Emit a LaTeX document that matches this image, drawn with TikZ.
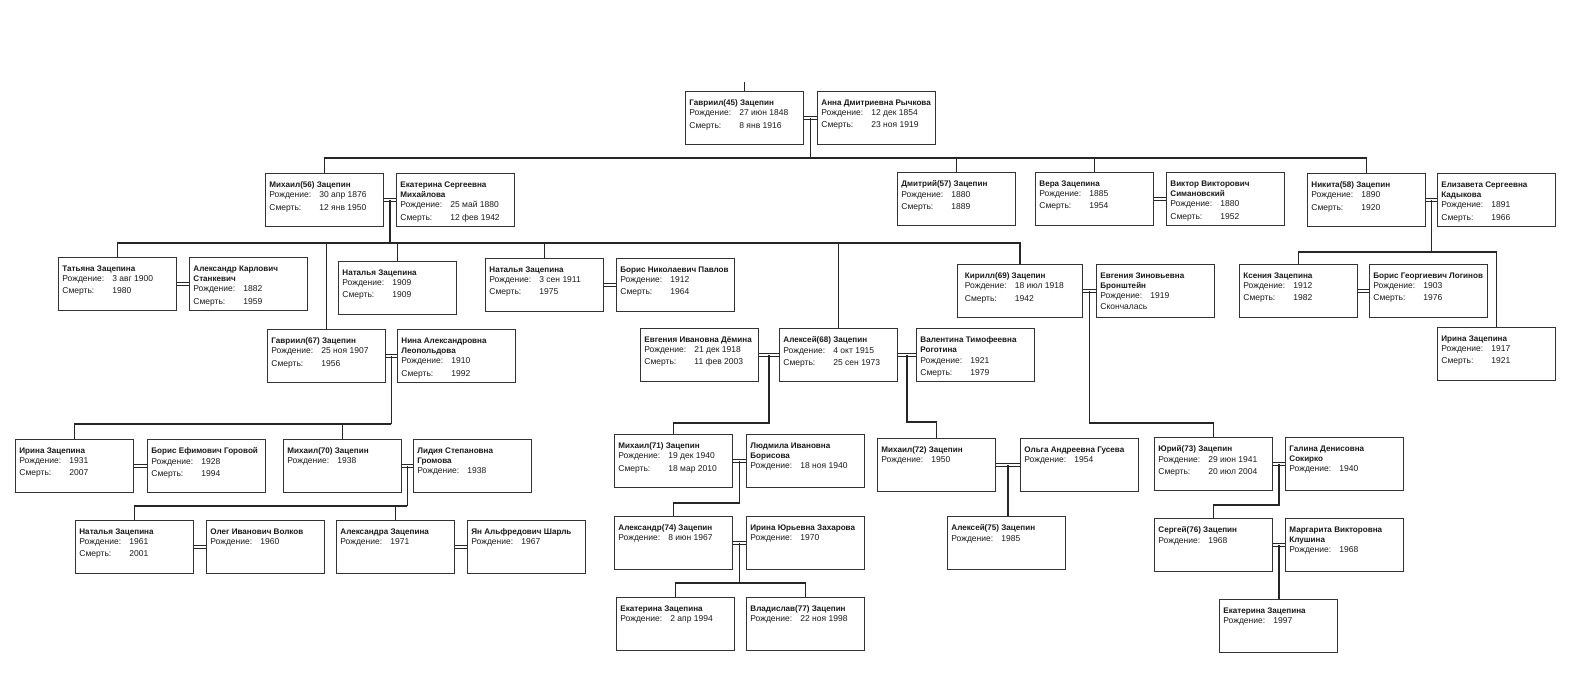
\documentclass[tikz,border=0pt]{standalone}
\usepackage{fontspec}
\setmainfont{Liberation Sans}
\usetikzlibrary{calc}

\newcommand{\nm}[1]{\mbox{\fontsize{8.1}{10.2}\selectfont\bfseries #1}}
\newcommand{\rod}[1]{\\\makebox[50pt][l]{Рождение:}#1}
\newcommand{\smr}[1]{\\[2pt]\makebox[50pt][l]{Смерть:}#1}

\tikzset{
  card/.style={draw=black!80, line width=0.8pt, anchor=north west, inner sep=0pt,
    minimum width=118pt, minimum height=53pt, text=black!90,
    font=\fontsize{8.5}{10.2}\selectfont,
    execute at begin node={\begin{minipage}[c][53pt][t]{110pt}\vspace*{8.5pt}\raggedright},
    execute at end node={\end{minipage}}},
  link/.style={line width=1.7pt, black!85},
  wed/.style={double=white, double distance=2.2pt, line width=0.8pt, black!85}
}

\begin{document}
\begin{tikzpicture}[x=1pt, y=-1pt]
  \useasboundingbox (0,0) rectangle (1573,685);

  % generation 1
  \node[card] (g45)  at (685,91)  {\nm{Гавриил(45) Зацепин}\rod{27 июн 1848}\smr{8 янв 1916}};
  \node[card] (anna) at (817,91)  {\nm{Анна Дмитриевна Рычкова}\rod{12 дек 1854}\smr{23 ноя 1919}};

  % generation 2
  \node[card] (m56)  at (265,173)  {\nm{Михаил(56) Зацепин}\rod{30 апр 1876}\smr{12 янв 1950}};
  \node[card] (ekat) at (396,173)  {\nm{Екатерина Сергеевна}\\\nm{Михайлова}\rod{25 май 1880}\smr{12 фев 1942}};
  \node[card] (d57)  at (897,172)  {\nm{Дмитрий(57) Зацепин}\rod{1880}\smr{1889}};
  \node[card] (vera) at (1035,172) {\nm{Вера Зацепина}\rod{1885}\smr{1954}};
  \node[card] (vik)  at (1166,172) {\nm{Виктор Викторович}\\\nm{Симановский}\rod{1880}\smr{1952}};
  \node[card] (n58)  at (1307,173) {\nm{Никита(58) Зацепин}\rod{1890}\smr{1920}};
  \node[card] (eliz) at (1437,173) {\nm{Елизавета Сергеевна}\\\nm{Кадыкова}\rod{1891}\smr{1966}};

  % generation 3
  \node[card] (tat)  at (58,257)   {\nm{Татьяна Зацепина}\rod{3 авг 1900}\smr{1980}};
  \node[card] (akar) at (189,257)  {\nm{Александр Карлович}\\\nm{Станкевич}\rod{1882}\smr{1959}};
  \node[card] (nat1) at (338,261)  {\nm{Наталья Зацепина}\rod{1909}\smr{1909}};
  \node[card] (nat2) at (485,258)  {\nm{Наталья Зацепина}\rod{3 сен 1911}\smr{1975}};
  \node[card] (bpav) at (616,258)  {\nm{Борис Николаевич Павлов}\rod{1912}\smr{1964}};
  \node[card, minimum width=125pt] (kir) at (957,264) {\nm{Кирилл(69) Зацепин}\rod{18 июл 1918}\smr{1942}};
  \node[card] (bron) at (1096,264) {\nm{Евгения Зиновьевна}\\\nm{Бронштейн}\rod{1919}\\Скончалась};
  \node[card] (ks)   at (1239,264) {\nm{Ксения Зацепина}\rod{1912}\smr{1982}};
  \node[card] (blog) at (1369,264) {\nm{Борис Георгиевич Логинов}\rod{1903}\smr{1976}};
  \node[card] (ir17) at (1437,327) {\nm{Ирина Зацепина}\rod{1917}\smr{1921}};
  \node[card] (g67)  at (267,329)  {\nm{Гавриил(67) Зацепин}\rod{25 ноя 1907}\smr{1956}};
  \node[card] (nina) at (397,329)  {\nm{Нина Александровна}\\\nm{Леопольдова}\rod{1910}\smr{1992}};
  \node[card] (dem)  at (640,328)  {\nm{Евгения Ивановна Дёмина}\rod{21 дек 1918}\smr{11 фев 2003}};
  \node[card] (a68)  at (779,328)  {\nm{Алексей(68) Зацепин}\rod{4 окт 1915}\smr{25 сен 1973}};
  \node[card] (val)  at (916,328)  {\nm{Валентина Тимофеевна}\\\nm{Роготина}\rod{1921}\smr{1979}};

  % generation 4
  \node[card] (ir31) at (15,439)   {\nm{Ирина Зацепина}\rod{1931}\smr{2007}};
  \node[card] (bgor) at (147,439)  {\nm{Борис Ефимович Горовой}\rod{1928}\smr{1994}};
  \node[card] (m70)  at (283,439)  {\nm{Михаил(70) Зацепин}\rod{1938}};
  \node[card] (lid)  at (413,439)  {\nm{Лидия Степановна}\\\nm{Громова}\rod{1938}};
  \node[card] (m71)  at (614,434)  {\nm{Михаил(71) Зацепин}\rod{19 дек 1940}\smr{18 мар 2010}};
  \node[card] (lud)  at (746,434)  {\nm{Людмила Ивановна}\\\nm{Борисова}\rod{18 ноя 1940}};
  \node[card] (m72)  at (877,438)  {\nm{Михаил(72) Зацепин}\rod{1950}};
  \node[card] (olga) at (1020,438) {\nm{Ольга Андреевна Гусева}\rod{1954}};
  \node[card] (yur)  at (1154,437) {\nm{Юрий(73) Зацепин}\rod{29 июн 1941}\smr{20 июл 2004}};
  \node[card] (gal)  at (1285,437) {\nm{Галина Денисовна}\\\nm{Сокирко}\rod{1940}};

  % generation 5
  \node[card] (nat3) at (75,520)   {\nm{Наталья Зацепина}\rod{1961}\smr{2001}};
  \node[card] (oleg) at (206,520)  {\nm{Олег Иванович Волков}\rod{1960}};
  \node[card] (alx)  at (336,520)  {\nm{Александра Зацепина}\rod{1971}};
  \node[card] (yan)  at (467,520)  {\nm{Ян Альфредович Шарль}\rod{1967}};
  \node[card] (a74)  at (614,516)  {\nm{Александр(74) Зацепин}\rod{8 июн 1967}};
  \node[card] (izah) at (746,516)  {\nm{Ирина Юрьевна Захарова}\rod{1970}};
  \node[card] (a75)  at (947,516)  {\nm{Алексей(75) Зацепин}\rod{1985}};
  \node[card] (s76)  at (1154,518) {\nm{Сергей(76) Зацепин}\rod{1968}};
  \node[card] (marg) at (1285,518) {\nm{Маргарита Викторовна}\\\nm{Клушина}\rod{1968}};

  % generation 6
  \node[card] (ek1)  at (616,597)  {\nm{Екатерина Зацепина}\rod{2 апр 1994}};
  \node[card] (vlad) at (746,597)  {\nm{Владислав(77) Зацепин}\rod{22 ноя 1998}};
  \node[card] (ek2)  at (1219,599) {\nm{Екатерина Зацепина}\rod{1997}};

  % marriages
  \foreach \a/\b in {g45/anna, m56/ekat, vera/vik, n58/eliz, tat/akar, nat2/bpav,
                     kir/bron, ks/blog, g67/nina, dem/a68, a68/val, ir31/bgor,
                     m70/lid, m71/lud, m72/olga, yur/gal, nat3/oleg, alx/yan,
                     a74/izah, s76/marg}
    \draw[wed] (\a.east) -- coordinate (\a-\b) (\b.west);

  % children
  \draw[link] (g45.north) -- ++(0,-9);
  \draw[link] (g45-anna) -- ++(0,40) coordinate (bus0);
  \foreach \c in {m56, d57, vera, n58} \draw[link] (bus0) -| (\c.north);
  \draw[link] (m56-ekat) -- ++(0,43) coordinate (bus1);
  \foreach \c in {tat, g67, nat1, nat2, a68, kir} \draw[link] (bus1) -| (\c.north);
  \draw[link] (n58-eliz) -- ++(0,52) coordinate (bus2);
  \foreach \c in {ks, ir17} \draw[link] (bus2) -| (\c.north);
  \draw[link] (g67-nina) -- ++(0,68) coordinate (bus3);
  \foreach \c in {ir31, m70} \draw[link] (bus3) -| (\c.north);
  \draw[link] (m70-lid) -- ++(0,40) coordinate (bus4);
  \foreach \c in {nat3, alx} \draw[link] (bus4) -| (\c.north);
  \draw[link] (a74-izah) -- ++(0,40) coordinate (bus5);
  \foreach \c in {ek1, vlad} \draw[link] (bus5) -| (\c.north);
  \draw[link] (kir-bron) -- ++(0,132) -| (yur.north);
  \draw[link] (dem-a68) -- ++(0,68) -| (m71.north);
  \draw[link] (a68-val) -- ++(0,67) -| (m72.north);
  \draw[link] (m71-lud) -- ++(0,42) -| (a74.north);
  \draw[link] (yur-gal) -- ++(0,41) -| (s76.north);
  \draw[link] (m72-olga) -- (m72-olga |- a75.north);
  \draw[link] (s76-marg) -- (s76-marg |- ek2.north);
\end{tikzpicture}
\end{document}
